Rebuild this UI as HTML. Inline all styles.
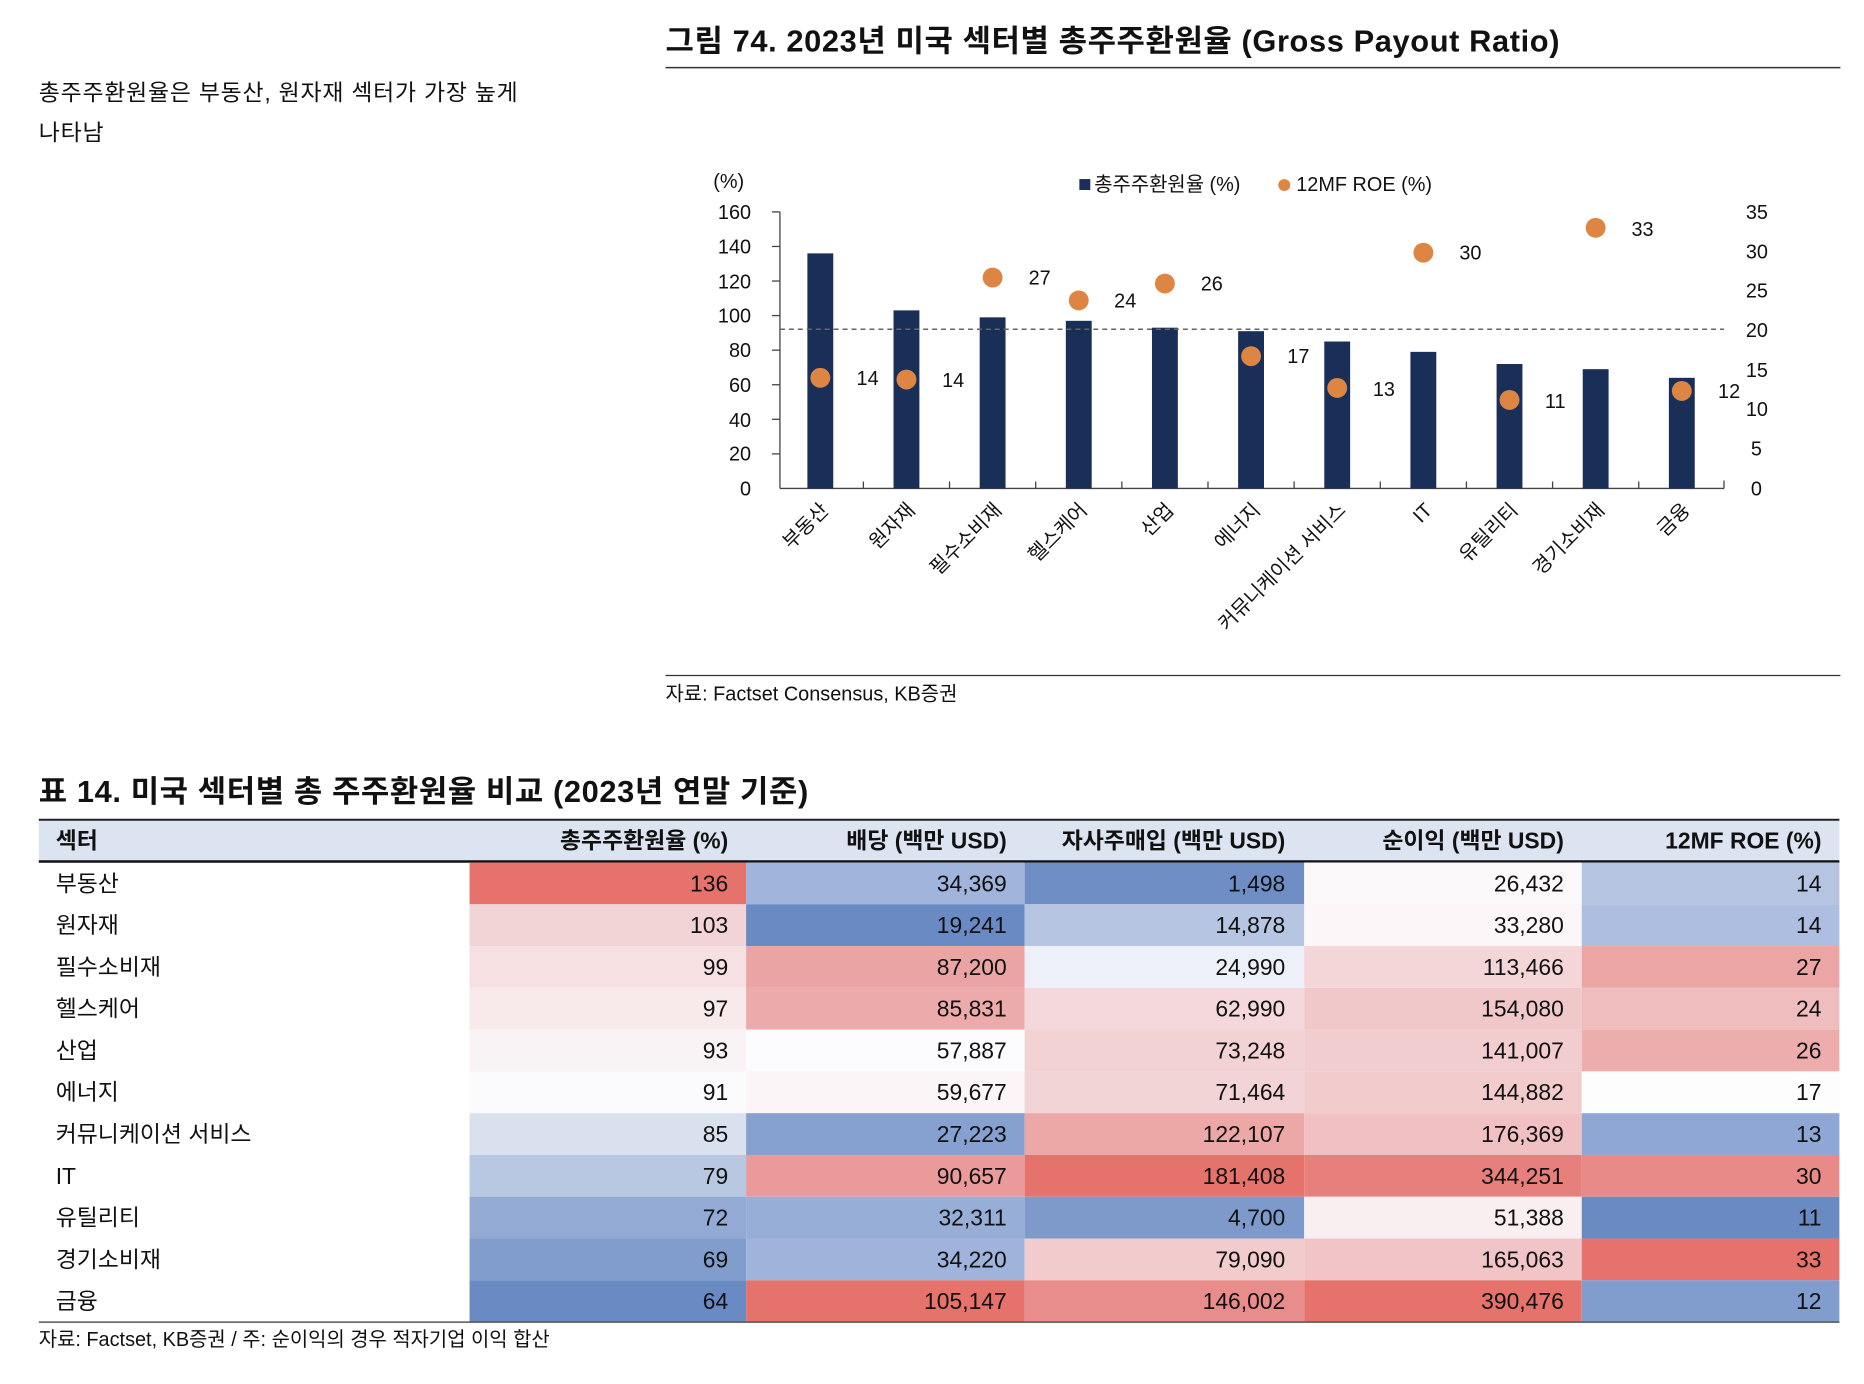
<!DOCTYPE html>
<html><head><meta charset="utf-8"><style>
html,body{margin:0;padding:0;background:#fff;}
svg{display:block;font-family:"Liberation Sans","Noto Sans CJK KR",sans-serif;}
</style></head><body>
<svg width="1864" height="1384" viewBox="0 0 1864 1384" xmlns="http://www.w3.org/2000/svg">
<g transform="scale(0.9948)">
<!-- left note -->
<text x="39" y="101" font-size="23" fill="#111" letter-spacing="0.8">총주주환원율은 부동산, 원자재 섹터가 가장 높게</text>
<text x="39" y="141" font-size="23" fill="#111" letter-spacing="0.8">나타남</text>
<!-- chart title -->
<text x="669" y="52" font-size="31" font-weight="bold" fill="#111" letter-spacing="0.6">그림 74. 2023년 미국 섹터별 총주주환원율 (Gross Payout Ratio)</text>
<line x1="669" y1="68" x2="1850" y2="68" stroke="#333" stroke-width="1.5"/>
<!-- legend -->
<text x="717" y="189" font-size="20" fill="#111">(%)</text>
<rect x="1085" y="180" width="11" height="11" fill="#1a2f57"/>
<text x="1100" y="192" font-size="20" fill="#111">총주주환원율 (%)</text>
<circle cx="1291" cy="186" r="6" fill="#dd8643"/>
<text x="1303" y="192" font-size="20" fill="#111">12MF ROE (%)</text>
<!-- axes -->
<g stroke="#444" stroke-width="1.3">
<line x1="784" y1="213" x2="784" y2="491"/>
<line x1="784" y1="491" x2="1733" y2="491"/>
<line x1="1733" y1="483" x2="1733" y2="491"/>
<line x1="776" y1="213" x2="784" y2="213"/><line x1="776" y1="247.75" x2="784" y2="247.75"/>
<line x1="776" y1="282.5" x2="784" y2="282.5"/><line x1="776" y1="317.25" x2="784" y2="317.25"/>
<line x1="776" y1="352" x2="784" y2="352"/><line x1="776" y1="386.75" x2="784" y2="386.75"/>
<line x1="776" y1="421.5" x2="784" y2="421.5"/><line x1="776" y1="456.25" x2="784" y2="456.25"/>
<line x1="867.9" y1="484" x2="867.9" y2="491"/><line x1="954.5" y1="484" x2="954.5" y2="491"/>
<line x1="1041.1" y1="484" x2="1041.1" y2="491"/><line x1="1127.7" y1="484" x2="1127.7" y2="491"/>
<line x1="1214.3" y1="484" x2="1214.3" y2="491"/><line x1="1300.9" y1="484" x2="1300.9" y2="491"/>
<line x1="1387.5" y1="484" x2="1387.5" y2="491"/><line x1="1474.1" y1="484" x2="1474.1" y2="491"/>
<line x1="1560.7" y1="484" x2="1560.7" y2="491"/><line x1="1647.3" y1="484" x2="1647.3" y2="491"/>
</g>
<g font-size="20" fill="#111" text-anchor="end">
<text x="755" y="220">160</text><text x="755" y="255">140</text><text x="755" y="290">120</text>
<text x="755" y="324">100</text><text x="755" y="359">80</text><text x="755" y="394">60</text>
<text x="755" y="429">40</text><text x="755" y="463">20</text><text x="755" y="498">0</text>
</g>
<g font-size="20" fill="#111">
<text x="1755" y="220">35</text><text x="1755" y="260">30</text><text x="1755" y="299">25</text>
<text x="1755" y="339">20</text><text x="1755" y="379">15</text><text x="1755" y="418">10</text>
<text x="1760" y="458">5</text><text x="1760" y="498">0</text>
</g>
<!-- bars -->
<g fill="#1a2f57">
<rect x="811.6" y="254.7" width="26" height="236.3"/>
<rect x="898.2" y="312" width="26" height="179"/>
<rect x="984.8" y="319" width="26" height="172"/>
<rect x="1071.4" y="322.5" width="26" height="168.5"/>
<rect x="1158" y="329.4" width="26" height="161.6"/>
<rect x="1244.6" y="332.9" width="26" height="158.1"/>
<rect x="1331.2" y="343.3" width="26" height="147.7"/>
<rect x="1417.8" y="353.7" width="26" height="137.3"/>
<rect x="1504.4" y="365.9" width="26" height="125.1"/>
<rect x="1591" y="371.1" width="26" height="119.9"/>
<rect x="1677.6" y="379.8" width="26" height="111.2"/>
</g>
<line x1="784" y1="331" x2="1733" y2="331" stroke="#666" stroke-width="1.5" stroke-dasharray="5,4"/>
<!-- dots -->
<g fill="#dd8643">
<circle cx="824.6" cy="379.8" r="10"/><circle cx="911.2" cy="381.5" r="10"/>
<circle cx="997.8" cy="279" r="10"/><circle cx="1084.4" cy="302" r="10"/>
<circle cx="1171" cy="285" r="10"/><circle cx="1257.6" cy="358" r="10"/>
<circle cx="1344.2" cy="390" r="10"/><circle cx="1430.8" cy="254" r="10"/>
<circle cx="1517.4" cy="402" r="10"/><circle cx="1604" cy="229" r="10"/>
<circle cx="1690.6" cy="393" r="10"/>
</g>
<g font-size="20" fill="#111">
<text x="861" y="387">14</text><text x="947" y="389">14</text>
<text x="1034" y="286">27</text><text x="1120" y="309">24</text>
<text x="1207" y="292">26</text><text x="1294" y="365">17</text>
<text x="1380" y="398">13</text><text x="1467" y="261">30</text>
<text x="1553" y="410">11</text><text x="1640" y="237">33</text>
<text x="1727" y="400">12</text>
</g>
<!-- x labels -->
<g font-size="20" fill="#111" text-anchor="end">
<text transform="translate(834,514) rotate(-45)">부동산</text>
<text transform="translate(921,514) rotate(-45)">원자재</text>
<text transform="translate(1008,514) rotate(-45)">필수소비재</text>
<text transform="translate(1094,514) rotate(-45)">헬스케어</text>
<text transform="translate(1181,514) rotate(-45)">산업</text>
<text transform="translate(1268,514) rotate(-45)">에너지</text>
<text transform="translate(1354,514) rotate(-45)">커뮤니케이션 서비스</text>
<text transform="translate(1441,514) rotate(-45)">IT</text>
<text transform="translate(1527,514) rotate(-45)">유틸리티</text>
<text transform="translate(1614,514) rotate(-45)">경기소비재</text>
<text transform="translate(1700,514) rotate(-45)">금융</text>
</g>
<line x1="669" y1="679" x2="1850" y2="679" stroke="#333" stroke-width="1.3"/>
<text x="669" y="704" font-size="20" fill="#111">자료: Factset Consensus, KB증권</text>

<!-- table -->
<text x="39" y="806" font-size="31" font-weight="bold" fill="#111" letter-spacing="0.6">표 14. 미국 섹터별 총 주주환원율 비교 (2023년 연말 기준)</text>
<rect x="39" y="824" width="1810" height="42" fill="#dce3f1"/>
<line x1="39" y1="824" x2="1849" y2="824" stroke="#222" stroke-width="2"/>
<line x1="39" y1="866" x2="1849" y2="866" stroke="#111" stroke-width="2.5"/>
<g font-size="23" font-weight="bold" fill="#111">
<text x="56" y="853">섹터</text>
<g text-anchor="end">
<text x="732" y="853">총주주환원율 (%)</text>
<text x="1012" y="853">배당 (백만 USD)</text>
<text x="1292" y="853">자사주매입 (백만 USD)</text>
<text x="1572" y="853">순이익 (백만 USD)</text>
<text x="1831" y="853">12MF ROE (%)</text>
</g></g>
<g>
<rect x="472" y="867" width="278" height="42" fill="#e5736b"/><rect x="750" y="867" width="280" height="42" fill="#a0b4dc"/><rect x="1030" y="867" width="281" height="42" fill="#6f8ec6"/><rect x="1311" y="867" width="279" height="42" fill="#fcf9fb"/><rect x="1590" y="867" width="259" height="42" fill="#b5c4e1"/>
<rect x="472" y="909" width="278" height="42" fill="#f2d4d7"/><rect x="750" y="909" width="280" height="42" fill="#6a8ac4"/><rect x="1030" y="909" width="281" height="42" fill="#b5c5e2"/><rect x="1311" y="909" width="279" height="42" fill="#fcf6f8"/><rect x="1590" y="909" width="259" height="42" fill="#adbee0"/>
<rect x="472" y="951" width="278" height="42" fill="#f6e0e2"/><rect x="750" y="951" width="280" height="42" fill="#eba4a4"/><rect x="1030" y="951" width="281" height="42" fill="#edf0f8"/><rect x="1311" y="951" width="279" height="42" fill="#f4d6d9"/><rect x="1590" y="951" width="259" height="42" fill="#eba5a4"/>
<rect x="472" y="993" width="278" height="42" fill="#f8eaeb"/><rect x="750" y="993" width="280" height="42" fill="#ecabaa"/><rect x="1030" y="993" width="281" height="42" fill="#f4d8db"/><rect x="1311" y="993" width="279" height="42" fill="#f1c8ca"/><rect x="1590" y="993" width="259" height="42" fill="#efbdbd"/>
<rect x="472" y="1035" width="278" height="42" fill="#faf3f5"/><rect x="750" y="1035" width="280" height="42" fill="#fcfcfe"/><rect x="1030" y="1035" width="281" height="42" fill="#f3d2d4"/><rect x="1311" y="1035" width="279" height="42" fill="#f2cdcf"/><rect x="1590" y="1035" width="259" height="42" fill="#ecadac"/>
<rect x="472" y="1077" width="278" height="42" fill="#fbfbfd"/><rect x="750" y="1077" width="280" height="42" fill="#fbf5f7"/><rect x="1030" y="1077" width="281" height="42" fill="#f3d4d6"/><rect x="1311" y="1077" width="279" height="42" fill="#f2cbcd"/><rect x="1590" y="1077" width="259" height="42" fill="#fdfdfe"/>
<rect x="472" y="1119" width="278" height="42" fill="#d9e1ef"/><rect x="750" y="1119" width="280" height="42" fill="#86a0cf"/><rect x="1030" y="1119" width="281" height="42" fill="#eca8a7"/><rect x="1311" y="1119" width="279" height="42" fill="#f0c0c2"/><rect x="1590" y="1119" width="259" height="42" fill="#8fa7d4"/>
<rect x="472" y="1161" width="278" height="42" fill="#b8c7e2"/><rect x="750" y="1161" width="280" height="42" fill="#ea9a9b"/><rect x="1030" y="1161" width="281" height="42" fill="#e5736b"/><rect x="1311" y="1161" width="279" height="42" fill="#e7807c"/><rect x="1590" y="1161" width="259" height="42" fill="#e88a88"/>
<rect x="472" y="1203" width="278" height="42" fill="#93aad5"/><rect x="750" y="1203" width="280" height="42" fill="#97aed7"/><rect x="1030" y="1203" width="281" height="42" fill="#7e9acb"/><rect x="1311" y="1203" width="279" height="42" fill="#f9eff1"/><rect x="1590" y="1203" width="259" height="42" fill="#6a8ac4"/>
<rect x="472" y="1245" width="278" height="42" fill="#809dcd"/><rect x="750" y="1245" width="280" height="42" fill="#a0b4db"/><rect x="1030" y="1245" width="281" height="42" fill="#f2cbcd"/><rect x="1311" y="1245" width="279" height="42" fill="#f1c5c7"/><rect x="1590" y="1245" width="259" height="42" fill="#e5736b"/>
<rect x="472" y="1287" width="278" height="42" fill="#6a8ac4"/><rect x="750" y="1287" width="280" height="42" fill="#e5736b"/><rect x="1030" y="1287" width="281" height="42" fill="#e88d8c"/><rect x="1311" y="1287" width="279" height="42" fill="#e5736b"/><rect x="1590" y="1287" width="259" height="42" fill="#809dcd"/>
</g>
<line x1="39" y1="1329" x2="1849" y2="1329" stroke="#555" stroke-width="1.5"/>
<g font-size="23" fill="#111">
<text x="56" y="896">부동산</text><text x="56" y="938">원자재</text><text x="56" y="980">필수소비재</text>
<text x="56" y="1022">헬스케어</text><text x="56" y="1064">산업</text><text x="56" y="1106">에너지</text>
<text x="56" y="1148">커뮤니케이션 서비스</text><text x="56" y="1190">IT</text><text x="56" y="1232">유틸리티</text>
<text x="56" y="1274">경기소비재</text><text x="56" y="1316">금융</text>
</g>
<g font-size="23" fill="#111" text-anchor="end">
<text x="732" y="896">136</text><text x="1012" y="896">34,369</text><text x="1292" y="896">1,498</text><text x="1572" y="896">26,432</text><text x="1831" y="896">14</text>
<text x="732" y="938">103</text><text x="1012" y="938">19,241</text><text x="1292" y="938">14,878</text><text x="1572" y="938">33,280</text><text x="1831" y="938">14</text>
<text x="732" y="980">99</text><text x="1012" y="980">87,200</text><text x="1292" y="980">24,990</text><text x="1572" y="980">113,466</text><text x="1831" y="980">27</text>
<text x="732" y="1022">97</text><text x="1012" y="1022">85,831</text><text x="1292" y="1022">62,990</text><text x="1572" y="1022">154,080</text><text x="1831" y="1022">24</text>
<text x="732" y="1064">93</text><text x="1012" y="1064">57,887</text><text x="1292" y="1064">73,248</text><text x="1572" y="1064">141,007</text><text x="1831" y="1064">26</text>
<text x="732" y="1106">91</text><text x="1012" y="1106">59,677</text><text x="1292" y="1106">71,464</text><text x="1572" y="1106">144,882</text><text x="1831" y="1106">17</text>
<text x="732" y="1148">85</text><text x="1012" y="1148">27,223</text><text x="1292" y="1148">122,107</text><text x="1572" y="1148">176,369</text><text x="1831" y="1148">13</text>
<text x="732" y="1190">79</text><text x="1012" y="1190">90,657</text><text x="1292" y="1190">181,408</text><text x="1572" y="1190">344,251</text><text x="1831" y="1190">30</text>
<text x="732" y="1232">72</text><text x="1012" y="1232">32,311</text><text x="1292" y="1232">4,700</text><text x="1572" y="1232">51,388</text><text x="1831" y="1232">11</text>
<text x="732" y="1274">69</text><text x="1012" y="1274">34,220</text><text x="1292" y="1274">79,090</text><text x="1572" y="1274">165,063</text><text x="1831" y="1274">33</text>
<text x="732" y="1316">64</text><text x="1012" y="1316">105,147</text><text x="1292" y="1316">146,002</text><text x="1572" y="1316">390,476</text><text x="1831" y="1316">12</text>
</g>
<text x="39" y="1353" font-size="20" fill="#111">자료: Factset, KB증권 / 주: 순이익의 경우 적자기업 이익 합산</text>
</g>
</svg>
</body></html>
